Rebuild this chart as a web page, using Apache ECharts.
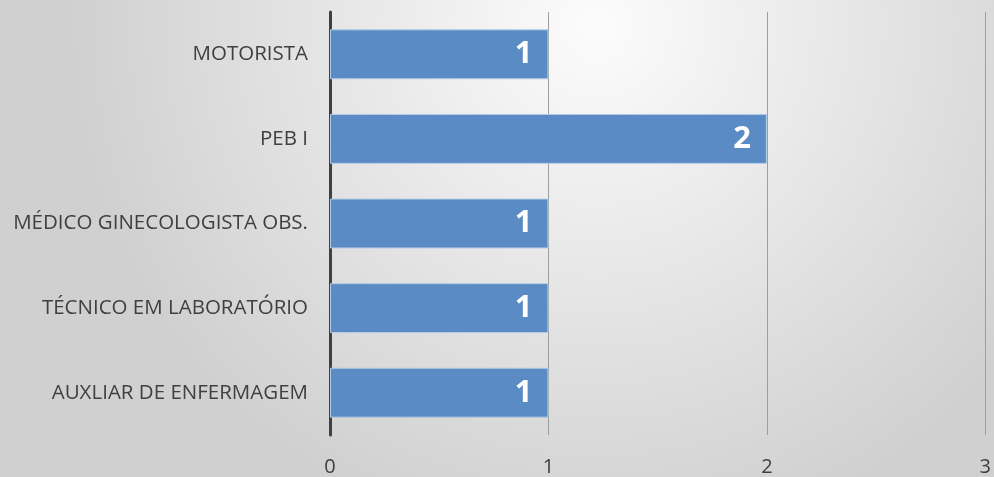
<!DOCTYPE html>
<html>
<head>
<meta charset="utf-8">
<script src="https://cdn.jsdelivr.net/npm/echarts@6/dist/echarts.min.js"></script>
<style>
  html, body { margin: 0; padding: 0; }
  #chart { width: 994px; height: 477px; }
</style>
</head>
<body>
<div id="chart"></div>
<script>
  // dados (de baixo para cima)
  var categories = ['AUXLIAR DE ENFERMAGEM', 'TÉCNICO EM LABORATÓRIO', 'MÉDICO GINECOLOGISTA OBS.', 'PEB I', 'MOTORISTA'];
  var values = [1, 1, 1, 2, 1];
  var tickMax = 3;

  var myChart = echarts.init(document.getElementById('chart'));
  var option = {
    backgroundColor: {
      type: 'radial', x: 0.6, y: 0.05, r: 1.1,
      colorStops: [
        { offset: 0, color: '#fcfcfc' },
        { offset: 1, color: '#d0d0d0' }
      ]
    },
    textStyle: { fontFamily: 'Open Sans' },
    grid: { left: 330, right: 6, top: 12, bottom: 42 },
    xAxis: {
      type: 'value',
      min: 0,
      max: tickMax,
      interval: 1,
      axisLine: { show: false },
      axisTick: { show: false },
      axisLabel: { color: '#404040', fontSize: 20, margin: 22 },
      splitLine: { show: true, lineStyle: { color: '#9e9e9e', width: 1 } }
    },
    yAxis: {
      type: 'category',
      data: categories,
      axisLine: { show: true, onZero: false, lineStyle: { color: '#404040', width: 3 } },
      axisTick: { show: false },
      axisLabel: { color: '#404040', fontSize: 20.5, margin: 22 }
    },
    series: [{
      type: 'bar',
      data: values,
      barWidth: '59%',
      itemStyle: { color: '#5b8bc4', borderColor: '#b4cbe6', borderWidth: 1 },
      label: {
        show: true,
        position: 'insideRight',
        distance: 16,
        color: '#ffffff',
        fontSize: 31,
        fontWeight: 'bold'
      }
    }]
  };
  myChart.setOption(option);
</script>
</body>
</html>
